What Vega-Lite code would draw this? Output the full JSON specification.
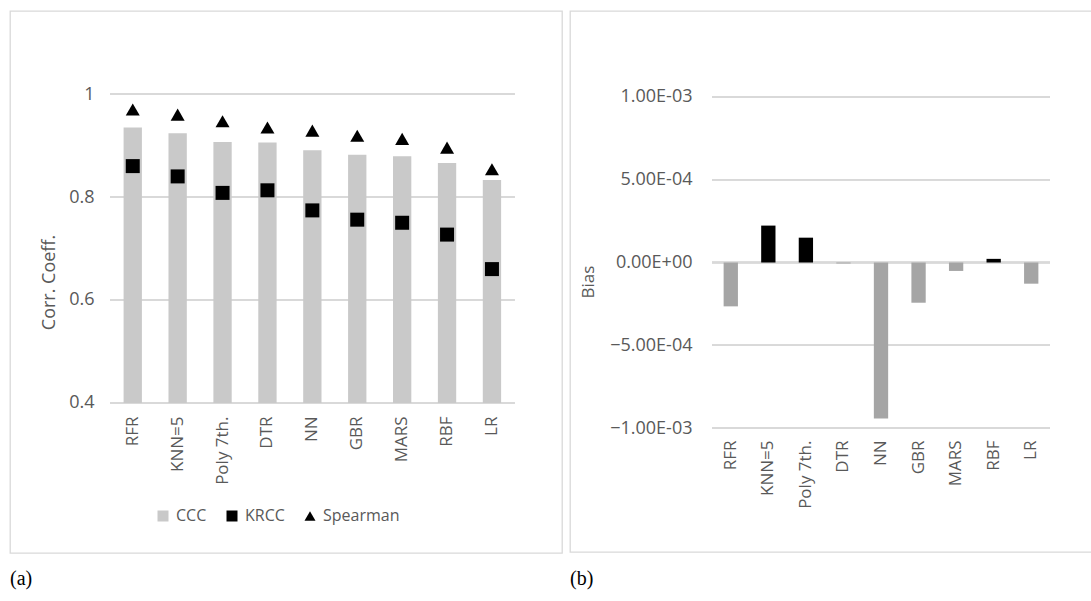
{
  "$schema": "https://vega.github.io/schema/vega-lite/v6.json",
  "background": "white",
  "padding": {"left": 9, "top": 10, "right": 0, "bottom": 0},
  "autosize": {"type": "pad"},
  "spacing": 6,
  "datasets": {
    "corr": [
      {"Model": "RFR", "Metric": "CCC", "Value": 0.935},
      {"Model": "KNN=5", "Metric": "CCC", "Value": 0.924},
      {"Model": "Poly 7th.", "Metric": "CCC", "Value": 0.907},
      {"Model": "DTR", "Metric": "CCC", "Value": 0.906},
      {"Model": "NN", "Metric": "CCC", "Value": 0.891},
      {"Model": "GBR", "Metric": "CCC", "Value": 0.882},
      {"Model": "MARS", "Metric": "CCC", "Value": 0.879},
      {"Model": "RBF", "Metric": "CCC", "Value": 0.866},
      {"Model": "LR", "Metric": "CCC", "Value": 0.833},
      {"Model": "RFR", "Metric": "KRCC", "Value": 0.860},
      {"Model": "KNN=5", "Metric": "KRCC", "Value": 0.840},
      {"Model": "Poly 7th.", "Metric": "KRCC", "Value": 0.808},
      {"Model": "DTR", "Metric": "KRCC", "Value": 0.813},
      {"Model": "NN", "Metric": "KRCC", "Value": 0.774},
      {"Model": "GBR", "Metric": "KRCC", "Value": 0.756},
      {"Model": "MARS", "Metric": "KRCC", "Value": 0.750},
      {"Model": "RBF", "Metric": "KRCC", "Value": 0.727},
      {"Model": "LR", "Metric": "KRCC", "Value": 0.660},
      {"Model": "RFR", "Metric": "Spearman", "Value": 0.970},
      {"Model": "KNN=5", "Metric": "Spearman", "Value": 0.960},
      {"Model": "Poly 7th.", "Metric": "Spearman", "Value": 0.947},
      {"Model": "DTR", "Metric": "Spearman", "Value": 0.935},
      {"Model": "NN", "Metric": "Spearman", "Value": 0.929},
      {"Model": "GBR", "Metric": "Spearman", "Value": 0.919},
      {"Model": "MARS", "Metric": "Spearman", "Value": 0.913},
      {"Model": "RBF", "Metric": "Spearman", "Value": 0.896},
      {"Model": "LR", "Metric": "Spearman", "Value": 0.854}
    ],
    "bias": [
      {"Model": "RFR", "Bias": -0.000265},
      {"Model": "KNN=5", "Bias": 0.000223},
      {"Model": "Poly 7th.", "Bias": 0.000150},
      {"Model": "DTR", "Bias": -0.000006},
      {"Model": "NN", "Bias": -0.000942},
      {"Model": "GBR", "Bias": -0.000243},
      {"Model": "MARS", "Bias": -0.000051},
      {"Model": "RBF", "Bias": 0.000022},
      {"Model": "LR", "Bias": -0.000128}
    ]
  },
  "hconcat": [
    {
      "width": 552,
      "height": 542,
      "title": {"text": "(a)", "orient": "bottom", "anchor": "start", "font": "Liberation Serif", "fontSize": 20, "fontWeight": "normal", "color": "black", "offset": 16},
      "data": {"name": "corr"},
      "encoding": {
        "x": {
          "field": "Model", "type": "nominal",
          "scale": {"domain": ["RFR", "KNN=5", "Poly 7th.", "DTR", "NN", "GBR", "MARS", "RBF", "LR"], "range": [100.3, 504.4], "paddingInner": 0.592, "paddingOuter": 0.296},
          "axis": {"title": null, "labelAngle": -90, "labelFontSize": 17, "labelFont": "Open Sans", "labelColor": "#595959", "domain": false, "ticks": false, "labelPadding": 13, "offset": -150, "grid": false}
        }
      },
      "layer": [
        {"mark": {"type": "rule", "color": "#D9D9D9", "strokeWidth": 1.3}, "encoding": {"y": {"datum": 1, "type": "quantitative"}, "x": {"datum": "RFR", "type": "nominal", "bandPosition": -0.7255}, "x2": {"datum": "LR", "bandPosition": 1.7255}}},
        {"mark": {"type": "rule", "color": "#D9D9D9", "strokeWidth": 1.3}, "encoding": {"y": {"datum": 0.8, "type": "quantitative"}, "x": {"datum": "RFR", "type": "nominal", "bandPosition": -0.7255}, "x2": {"datum": "LR", "bandPosition": 1.7255}}},
        {"mark": {"type": "rule", "color": "#D9D9D9", "strokeWidth": 1.3}, "encoding": {"y": {"datum": 0.6, "type": "quantitative"}, "x": {"datum": "RFR", "type": "nominal", "bandPosition": -0.7255}, "x2": {"datum": "LR", "bandPosition": 1.7255}}},
        {"mark": {"type": "rule", "color": "#D9D9D9", "strokeWidth": 1.3}, "encoding": {"y": {"datum": 0.4, "type": "quantitative"}, "x": {"datum": "RFR", "type": "nominal", "bandPosition": -0.7255}, "x2": {"datum": "LR", "bandPosition": 1.7255}}},
        {
          "transform": [{"filter": "datum.Metric == 'CCC'"}],
          "mark": {"type": "bar"},
          "encoding": {
            "y": {
              "field": "Value", "type": "quantitative",
              "scale": {"domain": [0.1087, 1.1612], "nice": false, "zero": false},
              "axis": {"title": "Corr. Coeff.", "titleFont": "Open Sans", "titleFontSize": 18, "titleFontWeight": "normal", "titleColor": "#595959", "titlePadding": 10, "values": [0.4, 0.6, 0.8, 1], "labelExpr": "'' + datum.value", "labelFont": "Open Sans", "labelFontSize": 18, "labelColor": "#595959", "domain": false, "ticks": false, "grid": false, "labelPadding": 16, "offset": -100}
            },
            "y2": {"datum": 0.4},
            "color": {"field": "Metric", "type": "nominal", "scale": {"domain": ["CCC", "KRCC", "Spearman"], "range": ["#C9C9C9", "#000000", "#000000"]}, "legend": {"title": null, "orient": "none", "legendX": 145, "legendY": 497, "direction": "horizontal", "labelFont": "Open Sans", "labelFontSize": 16, "labelColor": "#595959", "symbolSize": 121, "columnPadding": 17, "labelOffset": 5, "padding": 0, "symbolStrokeWidth": 0}}
          }
        },
        {
          "transform": [{"filter": "datum.Metric != 'CCC'"}],
          "mark": {"type": "point", "filled": true, "opacity": 1, "size": 196},
          "encoding": {
            "y": {"field": "Value", "type": "quantitative"},
            "color": {"field": "Metric", "type": "nominal"},
            "shape": {"field": "Metric", "type": "nominal", "scale": {"domain": ["CCC", "KRCC", "Spearman"], "range": ["square", "square", "triangle-up"]}}
          }
        }
      ]
    },
    {
      "width": 523,
      "height": 541,
      "title": {"text": "(b)", "orient": "bottom", "anchor": "start", "font": "Liberation Serif", "fontSize": 20, "fontWeight": "normal", "color": "black", "offset": 17},
      "data": {"name": "bias"},
      "encoding": {
        "x": {
          "field": "Model", "type": "nominal",
          "scale": {"domain": ["RFR", "KNN=5", "Poly 7th.", "DTR", "NN", "GBR", "MARS", "RBF", "LR"], "range": [142, 480], "paddingInner": 0.619, "paddingOuter": 0.3095},
          "axis": {"title": null, "labelAngle": -90, "labelFontSize": 17, "labelFont": "Open Sans", "labelColor": "#595959", "domain": false, "ticks": false, "labelPadding": 12, "offset": -124, "grid": false}
        }
      },
      "layer": [
        {"mark": {"type": "rule", "color": "#D9D9D9", "strokeWidth": 1.3}, "encoding": {"y": {"datum": 0.001, "type": "quantitative"}, "x": {"datum": "RFR", "type": "nominal", "bandPosition": -0.812}, "x2": {"datum": "LR", "bandPosition": 1.812}}},
        {"mark": {"type": "rule", "color": "#D9D9D9", "strokeWidth": 1.3}, "encoding": {"y": {"datum": 0.0005, "type": "quantitative"}, "x": {"datum": "RFR", "type": "nominal", "bandPosition": -0.812}, "x2": {"datum": "LR", "bandPosition": 1.812}}},
        {"mark": {"type": "rule", "color": "#D9D9D9", "strokeWidth": 1.3}, "encoding": {"y": {"datum": 0, "type": "quantitative"}, "x": {"datum": "RFR", "type": "nominal", "bandPosition": -0.812}, "x2": {"datum": "LR", "bandPosition": 1.812}}},
        {"mark": {"type": "rule", "color": "#D9D9D9", "strokeWidth": 1.3}, "encoding": {"y": {"datum": -0.0005, "type": "quantitative"}, "x": {"datum": "RFR", "type": "nominal", "bandPosition": -0.812}, "x2": {"datum": "LR", "bandPosition": 1.812}}},
        {"mark": {"type": "rule", "color": "#D9D9D9", "strokeWidth": 1.3}, "encoding": {"y": {"datum": -0.001, "type": "quantitative"}, "x": {"datum": "RFR", "type": "nominal", "bandPosition": -0.812}, "x2": {"datum": "LR", "bandPosition": 1.812}}},
        {
          "mark": {"type": "bar"},
          "encoding": {
            "y": {
              "field": "Bias", "type": "quantitative",
              "scale": {"domain": [-0.0017492, 0.0015196], "nice": false, "zero": false},
              "axis": {"title": "Bias", "titleFont": "Open Sans", "titleFontSize": 17, "titleFontWeight": "normal", "titleColor": "#595959", "titlePadding": 12, "values": [-0.001, -0.0005, 0, 0.0005, 0.001], "labelExpr": "replace(replace(format(datum.value, '.2e'), 'e-', 'E-0'), 'e+', 'E+0')", "labelFont": "Open Sans", "labelFontSize": 18, "labelColor": "#595959", "domain": false, "ticks": false, "grid": false, "labelPadding": 20, "offset": -142}
            },
            "y2": {"datum": 0},
            "color": {"condition": {"test": "datum.Bias < 0", "value": "#A5A5A5"}, "value": "#000000"}
          }
        }
      ]
    }
  ],
  "config": {
    "view": {"stroke": "#D9D9D9", "strokeWidth": 1.3},
    "font": "Open Sans"
  }
}
